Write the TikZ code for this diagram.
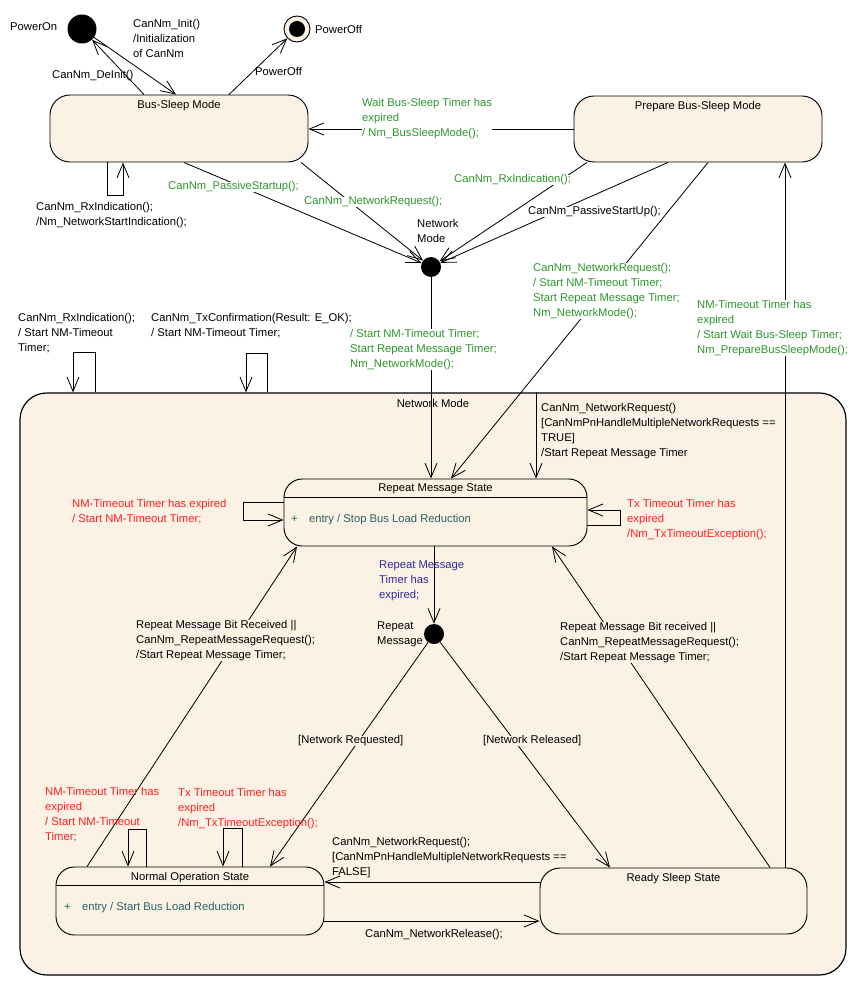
\documentclass[tikz,border=0pt]{standalone}
\usepackage{fontspec}
\setmainfont{Liberation Sans}
\usetikzlibrary{arrows.meta}
\definecolor{cream}{RGB}{251,241,228}
\definecolor{nmgreen}{RGB}{46,150,46}
\definecolor{nmred}{RGB}{255,32,32}
\definecolor{nmblue}{RGB}{44,44,160}
\definecolor{nmteal}{RGB}{40,100,100}
\tikzset{
  state/.style={draw, line width=0.8pt, fill=cream, rounded corners=0.55cm, inner sep=0pt},
  title/.style={anchor=north, inner sep=4.5pt},
  trans/.style={draw, line width=0.7pt, -{Straight Barb[length=4.3mm,width=3.6mm]}},
  lbl/.style={inner sep=0pt, align=left},
  junction/.style={circle, fill=black, inner sep=0pt, minimum size=0.6cm},
}

\begin{document}
\begin{tikzpicture}[x=0.03cm, y=-0.03cm, font=\fontsize{9.6}{12.8}\selectfont]
    \useasboundingbox (0,0) rectangle (865,990);

    % network mode
    \node[state, line width=1pt, rounded corners=0.8cm, minimum width=24.78cm, minimum height=17.46cm,
      label={[title, inner sep=6pt]north:Network Mode}] (nm) at (433,684) {};

    % states
    \node[state, rounded corners=0.6cm, minimum width=7.74cm, minimum height=2.01cm,
      label={[title]north:Bus-Sleep Mode}] (bsm) at (179,128.5) {};
    \node[state, rounded corners=0.6cm, minimum width=7.44cm, minimum height=1.98cm,
      label={[title]north:Prepare Bus-Sleep Mode}] (pbsm) at (698,129) {};
    \node[state, minimum width=9.09cm, minimum height=2.01cm,
      label={[title]north:Repeat Message State}] (rms) at (435.5,512.5) {};
    \node[state, minimum width=8.04cm, minimum height=2.04cm,
      label={[title]north:Normal Operation State}] (nos) at (190,901) {};
    \node[state, rounded corners=0.6cm, minimum width=8.01cm, minimum height=1.98cm,
      label={[title]north:Ready Sleep State}] (rss) at (673.5,901) {};
    \draw[line width=0.7pt] (rms.west |- 0,497) -- (rms.east |- 0,497);
    \draw[line width=0.7pt] (nos.west |- 0,885) -- (nos.east |- 0,885);
    \node[lbl, anchor=west, text=nmteal] (rmsentry) at (291,520) {+\hspace{1em}entry / Stop Bus Load Reduction};
    \node[lbl, anchor=west, text=nmteal] (nosentry) at (64,908) {+\hspace{1em}entry / Start Bus Load Reduction};

    % pseudo states
    \node[junction, minimum size=0.87cm] (pon) at (82,29) {};
    \node[circle, draw, line width=0.8pt, fill=cream, minimum size=0.78cm, inner sep=0pt] (poff) at (297,29) {};
    \node[junction, minimum size=0.48cm] (poffdot) at (poff) {};
    \node[junction] (nmj) at (431,267) {};
    \node[junction] (rmj) at (434,634) {};

    % transitions
    \draw[trans] (pon) -- (bsm.north -| 176,0);
    \draw[trans] (bsm.north -| 144,0) -- (pon);
    \draw[trans] (bsm.north -| 229,0) -- (poff);
    \draw[trans] (pbsm.west |- 0,129) -- (bsm.east |- 0,129);
    \draw[trans] (bsm.south -| 107,0) |- (123,195) -- (bsm.south -| 123,0);
    \draw[trans] (bsm.south -| 184,0) -- (nmj);
    \draw[trans] (bsm.south -| 301,0) -- (nmj);
    \draw[trans] (pbsm.south -| 587,0) -- (nmj);
    \draw[trans] (pbsm.south -| 668,0) -- (nmj);
    \draw[trans] (pbsm.south -| 708,0) -- (rms.north -| 451,0);
    \draw[trans] (nmj) -- (rms.north -| nmj);
    \draw[trans] (rss.north -| 785,0) -- (pbsm.south -| 785,0);
    \draw[trans] (nm.north -| 95,0) |- (73,352) -- (nm.north -| 73,0);
    \draw[trans] (nm.north -| 267,0) |- (246,353) -- (nm.north -| 246,0);
    \draw[trans] (nm.north -| 536,0) -- (rms.north -| 536,0);
    \draw[trans] (rms.west |- 0,502) -| (243,520) -- (rms.west |- 0,520);
    \draw[trans] (rms.east |- 0,525) -| (620,510) -- (rms.east |- 0,510);
    \draw[trans] (rms.south -| rmj) -- (rmj);
    \draw[trans] (rmj) -- (nos.north -| 270,0);
    \draw[trans] (rmj) -- (rss.north -| 610,0);
    \draw[trans] (nos.north -| 87,0) -- (rms.south -| 297,0);
    \draw[trans] (rss.north -| 770,0) -- (rms.south -| 552,0);
    \draw[trans] (nos.north -| 146,0) |- (128,829) -- (nos.north -| 128,0);
    \draw[trans] (nos.north -| 242,0) |- (223,828) -- (nos.north -| 223,0);
    \draw[trans] (rss.west |- 0,882) -- (nos.east |- 0,882);
    \draw[trans] (nos.east |- 0,921) -- (rss.west |- 0,921);

    % labels
    \node[lbl, anchor=west] (ponlbl) at (10,27) {PowerOn};
    \node[lbl, anchor=west] (pofflbl) at (315,29) {PowerOff};
    \node[lbl, anchor=north west] (initlbl) at (133,19) {CanNm\_Init()\\/Initialization\\of CanNm};
    \node[lbl, anchor=west] (deinitlbl) at (52,76) {CanNm\_DeInit()};
    \node[lbl, anchor=west] (offlbl) at (255,71) {PowerOff};
    \node[lbl, anchor=north west, fill=white, text=nmgreen] (waitlbl) at (362,98) {Wait Bus-Sleep Timer has\\expired\\/ Nm\_BusSleepMode();};
    \node[lbl, anchor=north west] (bsrxlbl) at (36,202) {CanNm\_RxIndication();\\/Nm\_NetworkStartIndication();};
    \node[lbl, anchor=west, fill=white, text=nmgreen] (bspaslbl) at (168,187) {CanNm\_PassiveStartup();};
    \node[lbl, anchor=west, fill=white, text=nmgreen] (bsreqlbl) at (304,202) {CanNm\_NetworkRequest();};
    \node[lbl, anchor=north west] (nmjlbl) at (417,219) {Network\\Mode};
    \node[lbl, anchor=west, fill=white, text=nmgreen] (pbrxlbl) at (454,180) {CanNm\_RxIndication();};
    \node[lbl, anchor=west, fill=white] (pbpaslbl) at (528,212) {CanNm\_PassiveStartUp();};
    \node[lbl, anchor=north west, fill=white, text=nmgreen] (pbreqlbl) at (533,263)
      {CanNm\_NetworkRequest();\\/ Start NM-Timeout Timer;\\Start Repeat Message Timer;\\Nm\_NetworkMode();};
    \node[lbl, anchor=north west, fill=white, text=nmgreen] (nmjoutlbl) at (350,329)
      {/ Start NM-Timeout Timer;\\Start Repeat Message Timer;\\Nm\_NetworkMode();};
    \node[lbl, anchor=north west, fill=white, text=nmgreen] (pbwaitlbl) at (697,300)
      {NM-Timeout Timer has\\expired\\/ Start Wait Bus-Sleep Timer;\\Nm\_PrepareBusSleepMode();};
    \node[lbl, anchor=north west] (nmrxlbl) at (18,313) {CanNm\_RxIndication();\\/ Start NM-Timeout\\Timer;};
    \node[lbl, anchor=north west] (nmtxlbl) at (151,313) {CanNm\_TxConfirmation(Result: E\_OK);\\/ Start NM-Timeout Timer;};
    \node[lbl, anchor=north west] (nmreqlbl) at (541,403)
      {CanNm\_NetworkRequest()\\{[CanNmPnHandleMultipleNetworkRequests ==}\\TRUE]\\/Start Repeat Message Timer};
    \node[lbl, anchor=north west, text=nmred] (rmsnmtlbl) at (72,499) {NM-Timeout Timer has expired\\/ Start NM-Timeout Timer;};
    \node[lbl, anchor=north west, text=nmred] (rmstxlbl) at (627,499) {Tx Timeout Timer has\\expired\\/Nm\_TxTimeoutException();};
    \node[lbl, anchor=north west, text=nmblue] (rmtlbl) at (379,561) {Repeat Message\\Timer has\\expired;};
    \node[lbl, anchor=north west] (rmjlbl) at (377,622) {Repeat\\Message};
    \node[lbl, anchor=west, fill=cream] (netreqlbl) at (298,741) {{[Network Requested]}};
    \node[lbl, anchor=west, fill=cream] (netrellbl) at (483,741) {{[Network Released]}};
    \node[lbl, anchor=north west, fill=cream] (nosrmlbl) at (136,620)
      {Repeat Message Bit Received ||\\CanNm\_RepeatMessageRequest();\\/Start Repeat Message Timer;};
    \node[lbl, anchor=north west, fill=cream] (rssrmlbl) at (560,622)
      {Repeat Message Bit received ||\\CanNm\_RepeatMessageRequest();\\/Start Repeat Message Timer;};
    \node[lbl, anchor=north west, text=nmred] (nosnmtlbl) at (45,787) {NM-Timeout Timer has\\expired\\/ Start NM-Timeout\\Timer;};
    \node[lbl, anchor=north west, text=nmred] (nostxlbl) at (178,788) {Tx Timeout Timer has\\expired\\/Nm\_TxTimeoutException();};
    \node[lbl, anchor=north west] (rssreqlbl) at (332,837)
      {CanNm\_NetworkRequest();\\{[CanNmPnHandleMultipleNetworkRequests ==}\\FALSE]};
    \node[lbl, anchor=west] (rellbl) at (365,935) {CanNm\_NetworkRelease();};
\end{tikzpicture}
\end{document}
